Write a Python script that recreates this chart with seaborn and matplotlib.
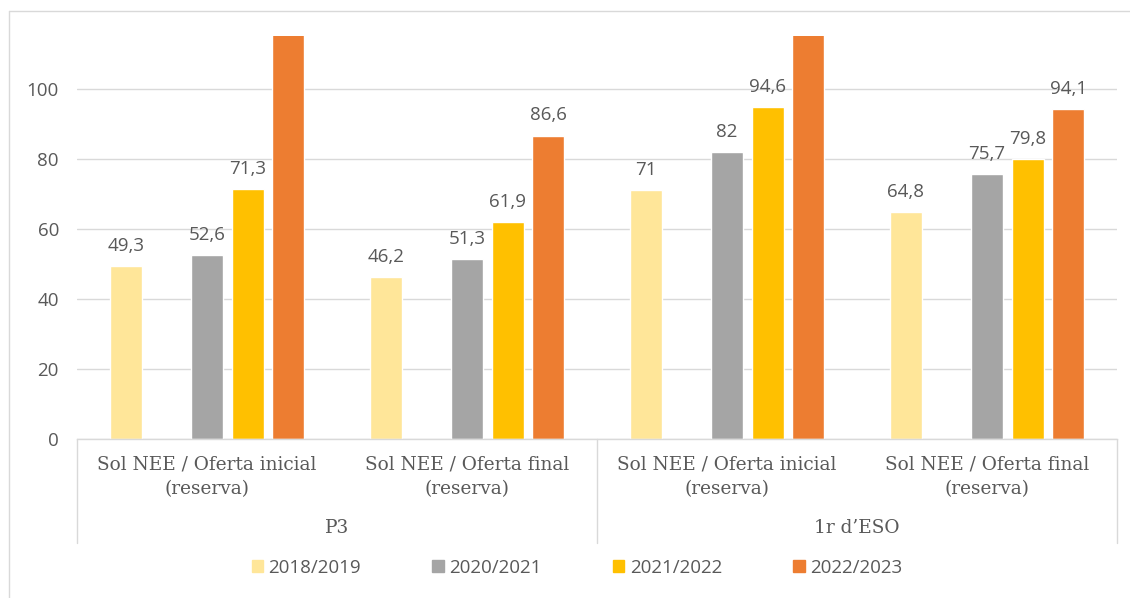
import matplotlib
matplotlib.use('Agg')
import matplotlib.pyplot as plt
import matplotlib.transforms as mtransforms
from matplotlib.lines import Line2D
from matplotlib.patches import Patch
import seaborn as sns
import pandas as pd
import numpy as np

# data
levels = ['P3', 'P3', '1r d\u2019ESO', '1r d\u2019ESO']
subcats = ['Sol NEE / Oferta inicial\n(reserva)', 'Sol NEE / Oferta final\n(reserva)',
           'Sol NEE / Oferta inicial\n(reserva)', 'Sol NEE / Oferta final\n(reserva)']
years = ['2018/2019', '2019/2020', '2020/2021', '2021/2022', '2022/2023']
v_2018 = [49.3, 46.2, 71.0, 64.8]
v_2019 = [np.nan, np.nan, np.nan, np.nan]   # empty series, keeps its slot
v_2020 = [52.6, 51.3, 82.0, 75.7]
v_2021 = [71.3, 61.9, 94.6, 79.8]
v_2022 = [125.0, 86.6, 125.0, 94.1]         # two bars run off the top of the axis
colors = ['#FFE699', '#FFFFFF', '#A5A5A5', '#FFC000', '#ED7D31']
ymax = 115

keys = [f'{l}|{s}' for l, s in zip(levels, subcats)]
rows = []
for yr, vals in zip(years, [v_2018, v_2019, v_2020, v_2021, v_2022]):
    for k, v in zip(keys, vals):
        rows.append({'cat': k, 'year': yr, 'value': v})
df = pd.DataFrame(rows)

sns.set_style('white')
plt.rcParams['font.family'] = ['Open Sans', 'DejaVu Sans']
txt = '#595959'
grid = '#D9D9D9'

fig = plt.figure(figsize=(11.3, 5.98), dpi=100)
ax = fig.add_axes([77 / 1130, 1 - 439 / 598, 1040 / 1130, 403 / 598])

sns.barplot(data=df, x='cat', y='value', hue='year', order=keys, hue_order=years,
            palette=dict(zip(years, colors)), width=0.78, gap=0.21,
            errorbar=None, legend=False, ax=ax, saturation=1)

ax.set_ylim(0, ymax)
ax.set_xlim(-0.5, 3.5)
ax.set_yticks(range(0, 101, 20))
ax.yaxis.grid(True, color=grid, lw=1)
ax.set_axisbelow(True)
for s in ['left', 'top', 'right']:
    ax.spines[s].set_visible(False)
ax.spines['bottom'].set_color(grid)
ax.spines['bottom'].set_linewidth(1)
ax.tick_params(axis='y', length=0, pad=13, labelsize=13.5, labelcolor=txt)
ax.tick_params(axis='x', length=0, pad=12)
ax.set_xlabel('')
ax.set_ylabel('')

ax.set_xticks(range(4))
ax.set_xticklabels(subcats, fontfamily='DejaVu Serif', fontsize=13.3, color=txt, linespacing=1.45)

# data labels
for cont in ax.containers:
    labs = []
    for bar in cont:
        h = bar.get_height()
        if np.isnan(h) or h > ymax:
            labs.append('')
        else:
            labs.append(f'{h:g}'.replace('.', ','))
    ax.bar_label(cont, labels=labs, padding=8, fontsize=13.5, color=txt)

# second level of the category axis
trans = mtransforms.blended_transform_factory(ax.transData, ax.transAxes)
for x in [-0.5, 1.5, 3.5]:
    ax.plot([x, x], [0, -0.257], transform=trans, clip_on=False, color=grid, lw=1)
for x, lab in [(0.5, levels[0]), (2.5, levels[2])]:
    ax.text(x, -0.221, lab, transform=trans, ha='center', va='center',
            fontfamily='DejaVu Serif', fontsize=13.3, color=txt)

# legend without the empty series
handles = [Patch(color=c, label=y) for y, c in zip(years, colors) if y != '2019/2020']
fig.legend(handles=handles, loc='center', bbox_to_anchor=(577 / 1130, 1 - 568 / 598),
           ncol=4, frameon=False, handlelength=0.6, handleheight=0.6, handletextpad=0.3,
           columnspacing=3.8, prop={'size': 13.5}, labelcolor=txt)

# chart border
fig.add_artist(Line2D([9 / 1130, 1], [1 - 11 / 598] * 2, color=grid, lw=1))
fig.add_artist(Line2D([9 / 1130] * 2, [0, 1 - 11 / 598], color=grid, lw=1))

fig.savefig('out.png', dpi=100)
